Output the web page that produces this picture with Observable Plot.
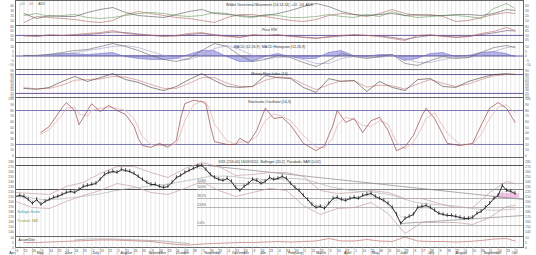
<!DOCTYPE html>
<html><head><meta charset="utf-8">
<script src="https://cdn.jsdelivr.net/npm/d3@7"></script>
<script src="https://cdn.jsdelivr.net/npm/@observablehq/plot@0.6"></script>
<style>
html,body{margin:0;padding:0;background:#fff;}
#chart{width:536px;height:255px;overflow:hidden;font-family:"Liberation Sans",Arial,sans-serif;}
#chart svg{display:block;}
</style></head><body><div id="chart"></div>
<script>
// ---------- data ----------
const idx3 = [2,5,8,11,14,17,20,23,26,29,32,35,38,41,44,47,50,53,56,59,62,65,68,71,74,77,80,83,86,89,92,95,98,101,104,107,110,113,116,118];

const dmiAdx   = [24,14,20,18,18,26,32,36,26,20,18,16,22,28,32,24,22,20,18,20,24,30,38,44,38,28,22,20,22,24,20,22,20,20,22,22,20,24,32,30];
const dmiMinus = [6,18,16,14,12,8,6,10,22,28,24,20,16,14,10,6,16,22,22,18,14,10,8,12,20,24,22,18,24,32,24,20,22,18,8,10,16,22,26,24];
const dmiPlus  = [20,24,18,20,22,16,14,16,20,24,26,24,20,18,20,26,24,18,16,22,20,16,16,18,22,18,16,22,18,28,20,16,18,20,20,18,14,34,44,34];

const rsiA = [50,46,53,50,53,57,60,67,57,53,50,46,50,57,60,50,46,43,53,50,53,46,43,39,46,50,53,50,46,39,32,50,53,46,43,46,57,64,78,67];
const rsiB = [48,48,50,50,51,53,57,62,60,55,51,48,48,53,57,53,48,44,50,50,51,48,44,41,44,48,51,50,48,43,36,44,50,48,44,46,53,59,67,66];

const macdLine = [0.6,0.6,1.7,3.9,6.1,7.2,10.5,13.9,10.5,6.1,0.6,-3.9,-6.1,-2.8,6.1,13.9,10.5,0.6,-6.1,-3.9,0.6,-1.7,-7.2,-11.7,-5,2.8,-0.6,-2.8,-0.6,1.7,-8.3,-10.5,-5,-0.6,-2.8,-1.7,3.9,9.4,11.7,9.4];
const macdSignal = [0.6,0.6,0.6,1.7,3.9,6.1,8.3,10.5,11.7,9.4,5,0.6,-2.8,-3.9,0.6,8.3,11.7,7.2,0.6,-2.8,-1.7,-0.6,-3.9,-8.3,-8.3,-2.8,-0.6,-1.7,-1.7,0.6,-2.8,-7.2,-7.2,-3.9,-1.7,-1.7,0.6,5,9.4,10.5];
const macdHist = [0,0,1.1,2.2,2.2,1.1,2.2,3.4,-1.2,-3.3,-4.4,-4.5,-3.3,1.1,5.5,5.6,-1.2,-6.6,-6.7,-1.1,2.3,-1.1,-3.3,-3.4,3.3,5.6,0,-1.1,1.1,1.1,-5.5,-3.3,2.2,3.3,-1.1,0,3.3,4.4,2.3,-1.1];

const mfiLine = [36,33,39,58,74,58,70,83,64,55,39,29,42,64,83,61,42,39,42,77,70,67,39,23,67,58,61,26,58,39,29,64,67,42,39,58,70,80,83,80];
const mfiSignal = [38,35,36,46,62,64,66,74,72,62,48,36,36,52,70,70,52,42,42,62,72,70,50,32,48,60,60,40,46,44,34,50,64,52,42,50,64,76,80,81];

const stochIdx = [6,8,11,12,14,15,17,18,20,22,24,26,28,29,30,32,34,36,38,39,40,42,44,45,46,47,50,52,53,55,57,59,61,63,65,68,71,73,75,76,78,80,82,84,86,88,90,92,94,96,97,99,102,105,108,110,112,114,116,118];
const stochK = [41,52,85,94,80,55,80,92,78,89,80,73,52,31,18,15,22,15,27,66,92,98,96,91,54,25,20,20,31,22,45,84,66,68,54,22,9,18,54,80,59,66,41,62,68,45,9,16,36,71,84,66,22,18,22,54,84,94,84,59];
const stochD = [38,46,72,84,86,74,70,80,84,86,84,80,66,50,34,20,18,18,21,40,62,90,96,95,80,56,26,21,24,25,34,62,74,70,62,36,15,14,32,54,68,64,54,52,62,56,24,12,24,50,66,76,40,20,20,38,66,86,90,76];

const close = [210,212,210,204,196,204,194,200,204,208,
  210,214,218,220,218,224,230,232,234,236,
  244,254,258,260,258,264,262,260,256,250,
  244,238,234,234,230,228,230,238,248,252,
  258,262,266,270,272,264,254,248,244,242,
  246,240,228,222,230,236,244,242,236,240,
  248,244,246,250,246,236,228,222,212,204,
  194,188,190,186,196,206,208,204,202,206,
  208,206,212,214,216,210,206,202,196,188,
  174,156,166,170,174,188,190,192,188,182,
  176,174,172,172,170,168,166,166,168,176,
  180,188,196,206,212,232,222,220,216];

const bbIdx = [0,4,8,12,16,20,24,28,32,36,40,44,48,52,56,60,64,68,72,76,80,84,88,92,96,100,104,108,112,116,118];
const bbUpper = [218,216,214,230,238,256,270,270,258,248,266,278,270,252,254,258,258,250,222,216,218,222,218,206,206,196,188,188,218,240,236];
const bbLower = [200,188,186,200,212,222,236,230,218,214,226,240,222,210,218,226,222,192,174,186,188,198,176,136,158,158,158,154,168,190,192];

const levelLines = [272, 224];
const fibLevels = [236, 224, 206, 188, 152];
const fibLabels = ["61.8%", "50.0%", "38.2%", "23.6%", "0.0%"];
const fibStart = 43;
const trendDownX = [43, 120], trendDownY = [274, 204];
const trendUpX = [91, 120], trendUpY = [156, 172];
const zoneX = [114, 119], zoneY = [206, 216];

const adLine = [5,5,5.5,6,6.5,7,7.5,7.5,7,6.5,6,4.5,3,2.5,3.5,4,4.5,5,5,5.5,6,5.5,6,6.5,9,6.5,6.5,8,6.5,6,10.5,6.5,6,6,5.5,6,7,8.5,9,6.5];
const adGreyIdx = [14,17,20,23,26,29,32,35,38,41];
const adGrey = [7.5,8.5,8.5,8.5,8,7.5,7,6.5,5,4];

const monthNames = ["Apr","May","June","July","August","September","October","November","December","Jan","February","March","April","May","June","July","August","September","Oct"];
const monthPos = [-1.5,5,11.6,18.2,24.8,31.4,38,44.6,51.2,57.8,64.4,71,77.6,84.2,90.8,97.4,104,110.6,117.2];
const dayLabels = ["6","15","26","5","14","25","3","14","23","2","13","22","2","11","20","31","9","20","29","8","19","28","7","16","25","4","15","24","3","14","23","4","13","24","2","11","22","3","14","23","1","10","21","30","11","20","29","8","17","28","9","18","27","6","15","26","5","14","23","2"];

const ticksDmi = [10,20,30,40];
const ticksRsi = [35,50,65,80];
const ticksMacd = [-10,-5,0,5,10];
const ticksMfi = [10,20,30,40,50,60,70,80,90];
const ticksStoch = [0,10,20,30,40,50,60,70,80,90,100];
const ticksPrice = [140,150,160,170,180,190,200,210,220,230,240,250,260,270,280];
const ticksAd = [0,5,10];

const titles = {
  dmi: "Wilder Directional Movement (14,14,14)  +DI  -DI  ADX",
  rsi: "Price RSI",
  macd: "MACD (12,26,9)  MACD Histogram (12,26,9)",
  mfi: "Money Flow Index (14)",
  stoch: "Stochastic Oscillator (14,3)",
  price: "XXX (216.00) 16/09/2011  Bollinger (20,2)  Parabolic SAR (0.02)"
};

// ---------- layout ----------
const W = 536, ML = 15, MR = 13;
const XDOM = [0, 120];
const gridX = d3.range(0, 121);
const FONT = "Liberation Sans, Arial, sans-serif";
const LW = 0.6;

function panel(h, ydom, yticks, marks) {
  return Plot.plot({
    width: W, height: h,
    marginLeft: ML, marginRight: MR, marginTop: 0, marginBottom: 0,
    style: {fontFamily: FONT, fontSize: "4px", background: "#fff", overflow: "visible"},
    x: {domain: XDOM, axis: null},
    y: {domain: ydom, axis: null},
    marks: [
      Plot.ruleX(gridX, {stroke: "#e0e0e0", strokeWidth: 0.8}),
      Plot.axisY(yticks, {anchor: "left", tickSize: 0, tickPadding: 1.5, fontSize: 3.4, fill: "#666", label: null}),
      Plot.axisY(yticks, {anchor: "right", tickSize: 0, tickPadding: 1.5, fontSize: 3.4, fill: "#666", label: null}),
      ...marks,
      Plot.frame({stroke: "#666", strokeWidth: 1})
    ]
  });
}
const title = (t, dy = 2.5) => Plot.text([t], {frameAnchor: "top", dy, fontSize: 3.6, fill: "#333"});
const series = (xs, ys) => xs.map((x, k) => ({x, y: ys[k]}));

const root = document.getElementById("chart");

// DMI panel
root.append(panel(25, [0, 50], ticksDmi, [
  Plot.line(series(idx3, dmiMinus), {x: "x", y: "y", stroke: "#a86a60", strokeWidth: LW}),
  Plot.line(series(idx3, dmiPlus), {x: "x", y: "y", stroke: "#6a9a5a", strokeWidth: LW}),
  Plot.line(series(idx3, dmiAdx), {x: "x", y: "y", stroke: "#555", strokeWidth: LW}),
  Plot.text(["+DI", "-DI", "ADX"], {x: [1, 3.2, 5.4], frameAnchor: "top", dy: 2.5, textAnchor: "start", fontSize: 3.2, fill: ["#6a9a5a", "#a86a60", "#444"]}),
  title(titles.dmi)
]));

// RSI panel
root.append(panel(17, [25, 85], ticksRsi, [
  Plot.ruleY([50], {stroke: "#6a5a9a", strokeWidth: 1}),
  Plot.line(series(idx3, rsiB), {x: "x", y: "y", stroke: "#6a4a7a", strokeWidth: LW}),
  Plot.line(series(idx3, rsiA), {x: "x", y: "y", stroke: "#b86a60", strokeWidth: LW}),
  title(titles.rsi)
]));

// MACD panel
const macdData = idx3.map((x, k) => ({x, m: macdLine[k], s: macdSignal[k], h: macdHist[k]}));
root.append(panel(27, [-15, 15], ticksMacd, [
  Plot.areaY(macdData, {x: "x", y: "h", fill: "#6060d0", fillOpacity: 0.45, stroke: "#4a4ac0", strokeWidth: 0.4}),
  Plot.ruleY([0], {stroke: "#6a5a9a", strokeWidth: 1}),
  Plot.line(macdData, {x: "x", y: "s", stroke: "#a0a0cc", strokeWidth: LW}),
  Plot.line(macdData, {x: "x", y: "m", stroke: "#666", strokeWidth: LW}),
  title(titles.macd)
]));

// MFI panel
root.append(panel(28, [7, 96], ticksMfi, [
  Plot.ruleY([80, 20], {stroke: "#6a5a9a", strokeWidth: 1}),
  Plot.line(series(idx3, mfiSignal), {x: "x", y: "y", stroke: "#cc7a7a", strokeWidth: LW}),
  Plot.line(series(idx3, mfiLine), {x: "x", y: "y", stroke: "#4a3a3a", strokeWidth: LW}),
  title(titles.mfi)
]));

// Stochastic panel
root.append(panel(60, [-3, 103], ticksStoch, [
  Plot.ruleY([80, 20], {stroke: "#7a7ab8", strokeWidth: 1}),
  Plot.line(series(stochIdx, stochD), {x: "x", y: "y", stroke: "#e0b0b0", strokeWidth: 0.7}),
  Plot.line(series(stochIdx, stochK), {x: "x", y: "y", stroke: "#9a4a4a", strokeWidth: 0.7}),
  title(titles.stoch)
]));

// Price panel
const priceData = close.map((v, i) => ({i, v}));
const bbData = bbIdx.map((x, k) => ({x, up: bbUpper[k], lo: bbLower[k]}));
const trendData = [
  ...trendDownX.map((x, k) => ({id: "down", x, y: trendDownY[k]})),
  ...trendUpX.map((x, k) => ({id: "up", x, y: trendUpY[k]}))
];
root.append(panel(79, [130, 288], ticksPrice, [
  Plot.rect([0], {x1: zoneX[0], x2: zoneX[1], y1: zoneY[0], y2: zoneY[1], fill: "#e59ad6", fillOpacity: 0.6}),
  Plot.ruleY(levelLines, {stroke: "#555", strokeWidth: 1}),
  Plot.ruleY(fibLevels, {x1: fibStart, x2: XDOM[1], stroke: "#999", strokeWidth: 0.7}),
  Plot.text(fibLevels, {x: fibStart, y: d => d, text: (d, k) => fibLabels[k], textAnchor: "start", dy: -2, fontSize: 3, fill: "#555"}),
  Plot.line(trendData, {x: "x", y: "y", z: "id", stroke: "#888", strokeWidth: 0.7}),
  Plot.line(bbData, {x: "x", y: "up", stroke: "#c8a0a0", strokeWidth: 0.7}),
  Plot.line(bbData, {x: "x", y: "lo", stroke: "#c8a0a0", strokeWidth: 0.7}),
  Plot.line(priceData, Plot.windowY({k: 30, anchor: "end"}, {x: "i", y: "v", stroke: "#aaa", strokeWidth: 0.6})),
  Plot.line(priceData, Plot.windowY({k: 5}, {x: "i", y: "v", stroke: "#c4c4c4", strokeWidth: 0.6})),
  Plot.ruleX(priceData, {x: "i", y1: d => d.v - 3.5, y2: d => d.v + 3.5, stroke: "#222", strokeWidth: 0.8}),
  Plot.line(priceData, {x: "i", y: "v", stroke: "#1a1a1a", strokeWidth: 0.9}),
  Plot.text(["Bollinger Bands"], {frameAnchor: "bottom-left", dx: 2, dy: -24, textAnchor: "start", fontSize: 3.2, fill: "#3aa0a0"}),
  Plot.text(["Parabolic SAR"], {frameAnchor: "bottom-left", dx: 2, dy: -15, textAnchor: "start", fontSize: 3.2, fill: "#a0a040"}),
  title(titles.price)
]));

// Accumulation / distribution panel
root.append(panel(11, [0, 11], ticksAd, [
  Plot.line(series(adGreyIdx, adGrey), {x: "x", y: "y", stroke: "#aaa", strokeWidth: 0.8}),
  Plot.line(series(idx3, adLine), {x: "x", y: "y", stroke: "#b85a5a", strokeWidth: LW}),
  Plot.text(["Accum/Dist"], {frameAnchor: "top-left", dx: 3, dy: 2.5, textAnchor: "start", fontSize: 3.2, fill: "#222", textDecoration: "underline"})
]));

// date axis
const dayData = dayLabels.map((t, k) => ({x: k * 2, t}));
const monthData = monthNames.map((t, k) => ({x: monthPos[k], t}));
root.append(Plot.plot({
  width: W, height: 8,
  marginLeft: ML, marginRight: MR, marginTop: 0, marginBottom: 0,
  style: {fontFamily: FONT, fontSize: "4px", background: "#fff", overflow: "visible"},
  x: {domain: XDOM, axis: null},
  y: {domain: [0, 1], axis: null},
  marks: [
    Plot.ruleX(dayData, {x: "x", stroke: "#aaa", strokeWidth: 0.6}),
    Plot.text(dayData, {x: "x", text: "t", frameAnchor: "top", dy: 2, dx: 1.8, fontSize: 3, fill: "#444"}),
    Plot.text(monthData, {x: "x", text: "t", frameAnchor: "bottom", dy: -1.2, textAnchor: "start", fontSize: 3.6, fill: "#333"})
  ]
}));
</script></body></html>
